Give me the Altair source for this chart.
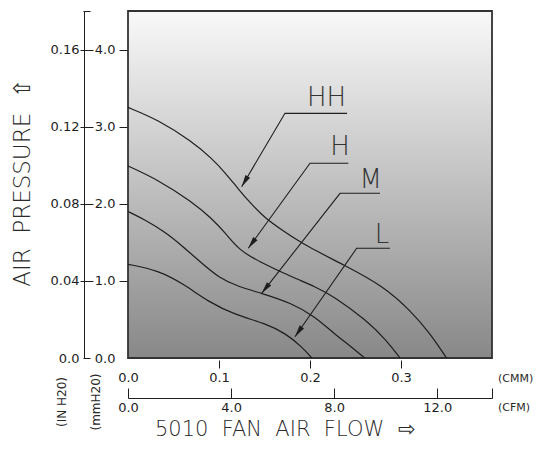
import math
import altair as alt
import pandas as pd

# ---------------- data (flow in CMM, pressure in mmH2O) ----------------
series_names = ["HH", "H", "M", "L"]
hh_x = [0.000, 0.033, 0.070, 0.092, 0.107, 0.122, 0.136, 0.151, 0.169, 0.196, 0.237, 0.281, 0.310, 0.332, 0.350]
hh_y = [3.25, 3.09, 2.81, 2.59, 2.40, 2.18, 1.99, 1.81, 1.66, 1.45, 1.21, 0.93, 0.62, 0.32, 0.00]
h_x = [0.000, 0.033, 0.070, 0.092, 0.107, 0.122, 0.144, 0.180, 0.206, 0.226, 0.262, 0.284, 0.299]
h_y = [2.49, 2.31, 2.03, 1.81, 1.62, 1.40, 1.25, 1.05, 0.925, 0.80, 0.49, 0.23, 0.00]
m_x = [0.000, 0.019, 0.040, 0.060, 0.080, 0.100, 0.121, 0.147, 0.180, 0.205, 0.226, 0.245, 0.260]
m_y = [1.90, 1.79, 1.64, 1.45, 1.24, 1.04, 0.925, 0.84, 0.71, 0.54, 0.32, 0.15, 0.00]
l_x = [0.000, 0.033, 0.063, 0.088, 0.118, 0.151, 0.173, 0.191, 0.202]
l_y = [1.215, 1.14, 0.947, 0.73, 0.558, 0.45, 0.32, 0.147, 0.00]

# annotation anchors (data units): label, leader end, elbow, arrow tip
label_x = [0.2181, 0.2330, 0.2668, 0.2791]
label_y = [3.268, 2.633, 2.201, 1.491]
lead_end_x = [0.2407, 0.2421, 0.2769, 0.2879]
lead_end_y = [3.173, 2.525, 2.136, 1.423]
elbow_x = [0.1725, 0.2000, 0.2330, 0.2513]
elbow_y = [3.173, 2.525, 2.136, 1.423]
tip_x = [0.1249, 0.1322, 0.1469, 0.1835]
tip_y = [2.222, 1.423, 0.839, 0.276]

# axis ticks / labels
mm_ticks = [0, 1, 2, 3, 4]
in_labels = ["0.0", "0.04", "0.08", "0.12", "0.16"]
cmm_ticks = [0.0, 0.1, 0.2, 0.3]
cfm_ticks = [0, 4, 8, 12]
CFM_PER_CMM = 35.3147
X_MAX = 0.4
Y_MAX = 4.5

W, H = 364, 347
FONT = "DejaVu Sans"
INK = "#1e1e1e"
NB = "\u00a0"

# ---------------- tables ----------------
rows = []
for name, xs_, ys_ in zip(series_names, [hh_x, h_x, m_x, l_x], [hh_y, h_y, m_y, l_y]):
    for a, b in zip(xs_, ys_):
        rows.append({"series": name, "cmm": a, "mm": b})
curves_df = pd.DataFrame(rows)

lead_rows = []
for i, name in enumerate(series_names):
    lead_rows.append({"series": name, "ord": 0, "cmm": lead_end_x[i], "mm": lead_end_y[i]})
    lead_rows.append({"series": name, "ord": 1, "cmm": elbow_x[i], "mm": elbow_y[i]})
    lead_rows.append({"series": name, "ord": 2, "cmm": tip_x[i], "mm": tip_y[i]})
lead_df = pd.DataFrame(lead_rows)

kx, ky = W / X_MAX, H / Y_MAX
tip_rows = []
for i, name in enumerate(series_names):
    sx = (tip_x[i] - elbow_x[i]) * kx
    sy = -(tip_y[i] - elbow_y[i]) * ky
    ang = math.degrees(math.atan2(sx, -sy)) % 360
    tip_rows.append({"series": name, "cmm": tip_x[i], "mm": tip_y[i], "ang": ang})
tip_df = pd.DataFrame(tip_rows)

lab_df = pd.DataFrame({"series": series_names, "cmm": label_x, "mm": label_y})
one = pd.DataFrame({"a": [0]})

xs = alt.Scale(domain=[0, X_MAX], nice=False, zero=False)
ys = alt.Scale(domain=[0, Y_MAX], nice=False, zero=False)

hide0 = {"condition": {"test": "datum.value == 0", "value": 0}, "value": 1}

in_expr = " : ".join(
    f"datum.value == {v} ? '{t}'" for v, t in zip(mm_ticks, in_labels)
) + " : ''"

common_axis = dict(labelFont=FONT, labelFontSize=13, labelColor=INK,
                   tickColor=INK, domainColor=INK, tickWidth=1, domainWidth=1,
                   grid=False, title=None, labelFlush=False)

ax_mm = alt.Axis(orient="left", values=mm_ticks, format=".1f", domain=False,
                 offset=0, tickSize=9, labelPadding=4, tickOpacity=hide0,
                 labelBaseline="middle", **common_axis)
ax_cmm = alt.Axis(orient="bottom", values=cmm_ticks, format=".1f", domain=False,
                  offset=2, tickSize=8, labelPadding=3, tickOpacity=hide0,
                  **common_axis)
ax_in = alt.Axis(orient="left", values=mm_ticks, labelExpr=in_expr, domain=False,
                 offset=35, tickSize=13, labelPadding=1, tickOpacity=hide0,
                 labelBaseline="middle", **common_axis)
ax_cfm_ticks = alt.Axis(orient="bottom",
                        values=[v / CFM_PER_CMM for v in cfm_ticks] + [X_MAX],
                        labels=False, domain=False, offset=30, tickSize=10,
                        **common_axis)
ax_outer = alt.Axis(orient="left", values=mm_ticks, labels=False, ticks=False,
                    domain=True, offset=44, **common_axis)
ax_cfm_labels = alt.Axis(orient="bottom",
                         values=[v / CFM_PER_CMM for v in cfm_ticks],
                         labelExpr=f"format(datum.value * {CFM_PER_CMM}, '.1f')",
                         ticks=False, domain=True, offset=40, labelPadding=3,
                         **common_axis)
ax_corner = alt.Axis(orient="left", values=[0, Y_MAX], labels=False, domain=False,
                     offset=38, tickSize=7, **common_axis)

gradient = alt.LinearGradient(
    gradient="linear",
    stops=[alt.GradientStop(color="#f9f9f9", offset=0),
           alt.GradientStop(color="#888888", offset=1)],
    x1=0, x2=0, y1=0, y2=1,
)

bg = alt.Chart(one).mark_rect(fill=gradient, stroke="#333333", strokeWidth=1.8).encode(
    x=alt.value(0), x2=alt.value(W), y=alt.value(0), y2=alt.value(H)
)

curves = alt.Chart(curves_df).mark_line(interpolate="basis", color=INK, strokeWidth=1.2).encode(
    x=alt.X("cmm:Q", scale=xs, axis=ax_cmm),
    y=alt.Y("mm:Q", scale=ys, axis=ax_mm),
    detail="series:N",
)

axes2 = alt.Chart(curves_df).mark_point(opacity=0).encode(
    x=alt.X("cmm:Q", scale=xs, axis=ax_cfm_ticks),
    y=alt.Y("mm:Q", scale=ys, axis=ax_in),
)
axes3 = alt.Chart(curves_df).mark_point(opacity=0).encode(
    x=alt.X("cmm:Q", scale=xs, axis=ax_cfm_labels),
    y=alt.Y("mm:Q", scale=ys, axis=ax_outer),
)
axes4 = alt.Chart(curves_df).mark_point(opacity=0).encode(
    x=alt.X("cmm:Q", scale=xs, axis=None),
    y=alt.Y("mm:Q", scale=ys, axis=ax_corner),
)

leaders = alt.Chart(lead_df).mark_line(color=INK, strokeWidth=1.1).encode(
    x=alt.X("cmm:Q", scale=xs, axis=None),
    y=alt.Y("mm:Q", scale=ys, axis=None),
    detail="series:N",
    order="ord:Q",
)

heads = alt.Chart(tip_df).mark_point(
    shape="M0,0L0.45,2L-0.45,2Z", filled=True, size=144, color=INK, opacity=1, strokeWidth=0
).encode(
    x=alt.X("cmm:Q", scale=xs, axis=None),
    y=alt.Y("mm:Q", scale=ys, axis=None),
    angle=alt.Angle("ang:Q", scale=None),
)

labels = alt.Chart(lab_df).mark_text(
    font=FONT, fontSize=26, fontWeight=300, color="#333333", align="center", baseline="alphabetic"
).encode(
    x=alt.X("cmm:Q", scale=xs, axis=None),
    y=alt.Y("mm:Q", scale=ys, axis=None),
    text="series:N",
)

def txt(s, x, y, size, angle=0, align="center", baseline="middle", weight=300):
    kw = dict(font=FONT, fontSize=size, fontWeight=weight, color="#2a2a2a",
              align=align, baseline=baseline)
    if angle:
        kw["angle"] = angle
    return alt.Chart(one).mark_text(text=s, **kw).encode(x=alt.value(x), y=alt.value(y))

t_ytitle = txt(f"AIR{NB} PRESSURE{NB} ⇧", -105, 172, 23, angle=270)
t_xtitle = txt(f"5010{NB} FAN{NB} AIR{NB} FLOW{NB} ⇨", 27, 425, 21, align="left", baseline="alphabetic")
t_in = txt("(IN H20)", -66, 391, 12, angle=270, weight=400)
t_mm = txt("(mmH20)", -32, 391, 12, angle=270, weight=400)
t_cmm = txt("(CMM)", 370, 368, 11, align="left", weight=400)
t_cfm = txt("(CFM)", 370, 397, 11, align="left", weight=400)

chart = alt.layer(
    bg, curves, axes2, axes3, axes4, leaders, heads, labels,
    t_ytitle, t_xtitle, t_in, t_mm, t_cmm, t_cfm,
).resolve_axis(
    x="independent", y="independent"
).properties(
    width=W, height=H,
    autosize=alt.AutoSizeParams(type="none"),
    padding={"left": 120, "top": 3, "right": 44, "bottom": 83},
).configure_view(stroke=None).configure(background="white")

chart.save("out.html", embed_options={"renderer": "svg", "actions": False})
